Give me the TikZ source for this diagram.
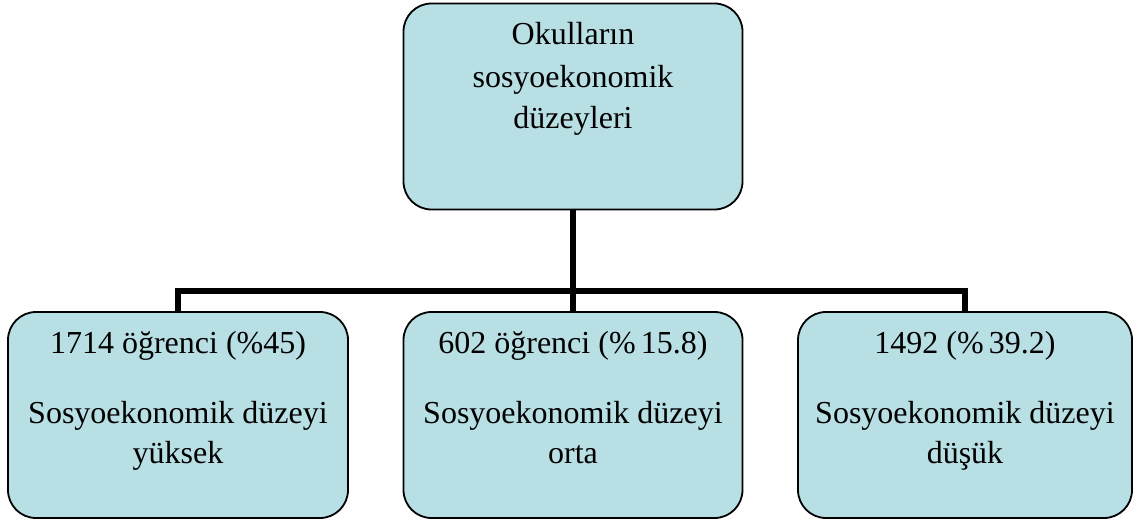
\documentclass[tikz,border=0pt]{standalone}
\usepackage{fontspec}
\setmainfont{Liberation Serif}
\definecolor{boxfill}{RGB}{183,223,228}
\begin{document}
\begin{tikzpicture}[x=1pt,y=-1pt,
  box/.style={draw=black, line width=1.8pt, fill=boxfill, rounded corners=28pt, inner sep=0pt},
  txt/.style={anchor=base, inner sep=0pt, font=\fontsize{32}{42}\selectfont},
  conn/.style={draw=black, line width=6pt, line cap=butt, line join=miter}]
\useasboundingbox (0,0) rectangle (1134,521);
% boxes
\node[box, minimum width=339pt, minimum height=206pt] (top) at (573,106.5) {};
\node[box, minimum width=340pt, minimum height=206pt] (left) at (178,415) {};
\node[box, minimum width=339pt, minimum height=206pt] (mid) at (573,415) {};
\node[box, minimum width=334pt, minimum height=206pt] (right) at (965,415) {};
% top text
\node[txt] (t1) at (573,45) {Okulların};
\node[txt] (t2) at (573,88) {sosyoekonomik};
\node[txt] (t3) at (573,129) {düzeyleri};
% left text
\node[txt] (l1) at (178,353) {1714 öğrenci (\%45)};
\node[txt] (l2) at (178,423) {Sosyoekonomik düzeyi};
\node[txt] (l3) at (178,463) {yüksek};
% middle text
\node[txt] (m1) at (573,353) {602 öğrenci (\%\,15.8)};
\node[txt] (m2) at (573,423) {Sosyoekonomik düzeyi};
\node[txt] (m3) at (573,463) {orta};
% right text
\node[txt] (r1) at (965,353) {1492 (\%\,39.2)};
\node[txt] (r2) at (965,423) {Sosyoekonomik düzeyi};
\node[txt] (r3) at (965,463) {düşük};
% connectors
\coordinate (hub) at (573,291);
\draw[conn] (top.south) -- (mid.north);
\draw[conn] (hub) -| (left.north);
\draw[conn] (hub) -| (right.north);
\end{tikzpicture}
\end{document}
